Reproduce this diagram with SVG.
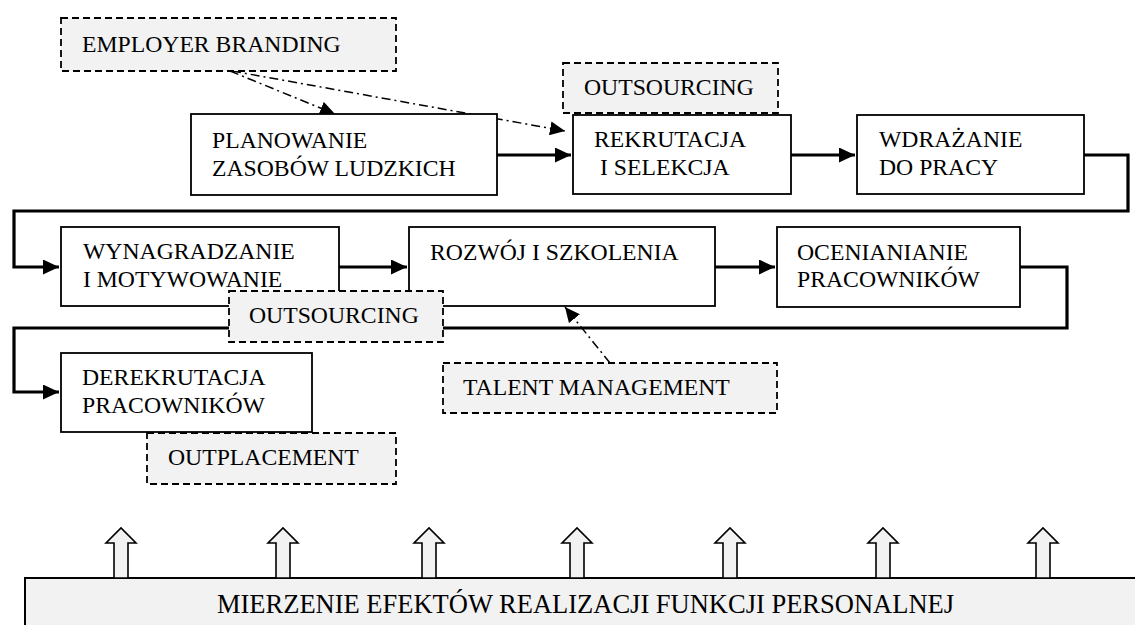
<svg xmlns="http://www.w3.org/2000/svg" width="1135" height="625" viewBox="0 0 1135 625">
<style>
.box{fill:#ffffff;stroke:#000;stroke-width:1.8}
.dbox{fill:#f2f2f2;stroke:#000;stroke-width:1.8;stroke-dasharray:7 4}
.t{font-family:"Liberation Serif","Times New Roman",serif;font-size:23.7px;fill:#000}
.flow{fill:none;stroke:#000;stroke-width:3.2}
.dd{fill:none;stroke:#000;stroke-width:1.5;stroke-dasharray:9 4 2 4}
.barrow{fill:#f2f2f2;stroke:#000;stroke-width:1.6}
</style>
<defs>
<marker id="ah" markerUnits="userSpaceOnUse" markerWidth="17" markerHeight="15" refX="16" refY="7.5" orient="auto">
<path d="M0,0 L16,7.5 L0,15 Z" fill="#000"/>
</marker>
<marker id="ad" markerUnits="userSpaceOnUse" markerWidth="16" markerHeight="14" refX="15" refY="7" orient="auto">
<path d="M0,0 L15,7 L0,14 Z" fill="#000"/>
</marker>
<path id="up" class="barrow" d="M-7,578 V543 H-15 L0,528 L15,543 H7 V578 Z"/>
</defs>

<g id="connectors">
<path class="flow" d="M497,155 H571" marker-end="url(#ah)"/>
<path class="flow" d="M791,155 H855" marker-end="url(#ah)"/>
<path class="flow" d="M1084,155 H1128 V211 H14 V267 H59" marker-end="url(#ah)"/>
<path class="flow" d="M339,267 H407" marker-end="url(#ah)"/>
<path class="flow" d="M715,267 H775" marker-end="url(#ah)"/>
<path class="flow" d="M1020,267 H1067 V328 H14 V392 H59" marker-end="url(#ah)"/>
<path class="dd" d="M230,71 L335,114" marker-end="url(#ad)"/>
<path class="dd" d="M232,71 L565,131" marker-end="url(#ad)"/>
<path class="dd" d="M610,363 L565,307" marker-end="url(#ad)"/>
</g>

<g id="planowanie">
<rect class="box" x="191" y="114" width="306" height="81"/>
<text class="t" x="212" y="148">PLANOWANIE</text>
<text class="t" x="212" y="176">ZASOBÓW LUDZKICH</text>
</g>
<g id="rekrutacja">
<rect class="box" x="573" y="115" width="218" height="79"/>
<text class="t" x="594" y="147">REKRUTACJA</text>
<text class="t" x="600" y="175">I SELEKCJA</text>
</g>
<g id="wdrazanie">
<rect class="box" x="857" y="115" width="227" height="79"/>
<text class="t" x="879" y="147">WDRAŻANIE</text>
<text class="t" x="879" y="175">DO PRACY</text>
</g>
<g id="wynagradzanie">
<rect class="box" x="61" y="227" width="278" height="79"/>
<text class="t" x="83" y="259">WYNAGRADZANIE</text>
<text class="t" x="83" y="287">I MOTYWOWANIE</text>
</g>
<g id="rozwoj">
<rect class="box" x="409" y="227" width="306" height="79"/>
<text class="t" x="430" y="260">ROZWÓJ I SZKOLENIA</text>
</g>
<g id="ocenianie">
<rect class="box" x="777" y="227" width="243" height="80"/>
<text class="t" x="797" y="260">OCENIANIANIE</text>
<text class="t" x="797" y="287">PRACOWNIKÓW</text>
</g>
<g id="derekrutacja">
<rect class="box" x="61" y="353" width="251" height="79"/>
<text class="t" x="82" y="385">DEREKRUTACJA</text>
<text class="t" x="82" y="413">PRACOWNIKÓW</text>
</g>

<g id="employer-branding">
<rect class="dbox" x="61" y="18" width="335" height="53"/>
<text class="t" x="82" y="52">EMPLOYER BRANDING</text>
</g>
<g id="outsourcing-top">
<rect class="dbox" x="563" y="63" width="215" height="50"/>
<text class="t" x="584" y="95">OUTSOURCING</text>
</g>
<g id="outsourcing-mid">
<rect class="dbox" x="229" y="291" width="214" height="51"/>
<text class="t" x="249" y="323">OUTSOURCING</text>
</g>
<g id="talent-management">
<rect class="dbox" x="443" y="363" width="334" height="50"/>
<text class="t" x="463" y="395">TALENT MANAGEMENT</text>
</g>
<g id="outplacement">
<rect class="dbox" x="147" y="433" width="249" height="51"/>
<text class="t" x="168" y="465">OUTPLACEMENT</text>
</g>

<g id="measurement">
<rect x="25" y="578" width="1125" height="60" fill="#f2f2f2" stroke="#000" stroke-width="2"/>
<text x="585.5" y="613" text-anchor="middle" font-family="'Liberation Serif','Times New Roman',serif" font-size="26.5px" fill="#000">MIERZENIE EFEKTÓW REALIZACJI FUNKCJI PERSONALNEJ</text>
</g>
<g id="up-arrows">
<use href="#up" x="121"/>
<use href="#up" x="283"/>
<use href="#up" x="429"/>
<use href="#up" x="577"/>
<use href="#up" x="730"/>
<use href="#up" x="883"/>
<use href="#up" x="1043"/>
</g>
</svg>
